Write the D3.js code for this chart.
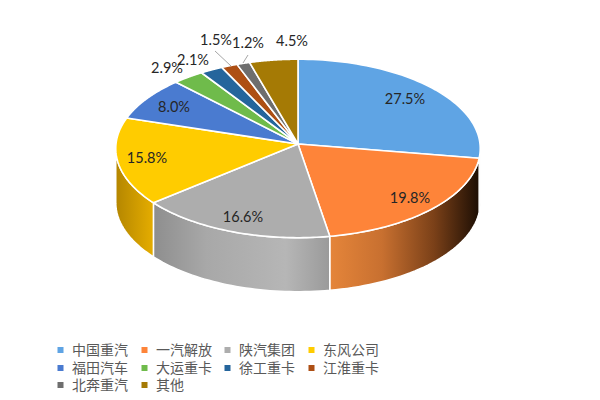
<!DOCTYPE html>
<html><head><meta charset="utf-8">
<script src="https://cdnjs.cloudflare.com/ajax/libs/d3/7.8.5/d3.min.js"></script>
<style>html,body{margin:0;background:#fff}svg{display:block}</style></head>
<body><svg id="c" width="600" height="400"></svg>
<script>
const categories=["中国重汽","一汽解放","陕汽集团","东风公司","福田汽车","大运重卡","徐工重卡","江淮重卡","北奔重汽","其他"];
const shares=[27.5,19.8,16.6,15.8,8.0,2.9,2.1,1.5,1.2,4.5];
const labels=["27.5%","19.8%","16.6%","15.8%","8.0%","2.9%","2.1%","1.5%","1.2%","4.5%"];
const colors=["#5fa4e4","#fe8439","#adadad","#ffcc00","#4a7bd0","#6fbb4b","#25659c","#ad4f14","#6e6e6e","#a57a05"];

// layout
const cx=298,cy=144,rx=182,ry=89,depth=54,persp=0.05;
const labelXY=[[405,99],[410,198],[243,217],[147,158],[174,107],[167,68],[193,60],[216,40],[248,43],[292,41]];
const leaders=[null,null,null,null,null,null,null,[[215,51],[231,66]],[[248,55],[243,63]],null];
const sideStops={
 0:[[0,"#1a0d03"],[1,"#000"]],
 1:[[0,"#e5853a"],[0.35,"#c87030"],[0.7,"#7a4018"],[1,"#1c0e04"]],
 2:[[0,"#8e8e8e"],[0.3,"#a8a8a8"],[0.75,"#b6b6b6"],[1,"#9a9a9a"]],
 3:[[0,"#b48600"],[1,"#e5ad00"]]
};

const svg=d3.select("#c");
const defs=svg.append("defs");
const arcs=d3.pie().sort(null).value(d=>d)(shares);
// rim of the pie seen in slight perspective: the far edge is a little foreshortened
const rim=a=>{const s=1+persp*Math.cos(a);return [cx+rx*Math.sin(a)/s, cy-ry*Math.cos(a)/s];};
const steps=(a0,a1,n)=>d3.range(0,n+1).map(k=>a0+(a1-a0)*k/n);
const line=d3.line();

// side walls: only the part of the rim facing the viewer
const lo=Math.acos(-persp), hi=2*Math.PI-lo;
const wall=svg.append("g");
arcs.forEach((d,i)=>{
  const a0=Math.max(d.startAngle,lo),a1=Math.min(d.endAngle,hi);
  if(a1<=a0)return;
  const ts=steps(a0,a1,40);
  const top=ts.map(rim);
  const bot=ts.slice().reverse().map(a=>{const p=rim(a);return [p[0],p[1]+depth];});
  const xs=top.map(p=>p[0]);
  const id="g"+i;
  const g=defs.append("linearGradient").attr("id",id).attr("gradientUnits","userSpaceOnUse")
    .attr("x1",i==1?d3.min(xs):d3.min(xs)).attr("x2",d3.max(xs)).attr("y1",0).attr("y2",0);
  (sideStops[i]||[[0,colors[i]],[1,colors[i]]]).forEach(s=>g.append("stop").attr("offset",s[0]).attr("stop-color",s[1]));
  wall.append("path").attr("d",line(top.concat(bot))+"Z")
    .attr("fill",`url(#${id})`).attr("stroke","#fff").attr("stroke-width",1.5).attr("stroke-linejoin","round");
});

// top face
svg.append("g").selectAll("path").data(arcs).join("path")
 .attr("d",d=>line([[cx,cy]].concat(steps(d.startAngle,d.endAngle,60).map(rim)))+"Z")
 .attr("fill",(d,i)=>colors[i])
 .attr("stroke","#fff").attr("stroke-width",1.6).attr("stroke-linejoin","round");

// leader lines
leaders.forEach(l=>{ if(l) svg.append("path").attr("d",line(l)).attr("stroke","#a6a6a6").attr("stroke-width",1).attr("fill","none");});

// value labels
svg.append("g").selectAll("text").data(labels).join("text")
 .attr("x",(d,i)=>labelXY[i][0]).attr("y",(d,i)=>labelXY[i][1]+5)
 .attr("text-anchor","middle").attr("font-family","Lato,'Open Sans',sans-serif").attr("font-size",14.5)
 .attr("fill","#262626").text(d=>d);

// legend
const colX=[60,144,227,311],rowY=[350,368,385];
const lg=svg.append("g");
categories.forEach((c,i)=>{
  const x=colX[i%4],y=rowY[Math.floor(i/4)];
  lg.append("rect").attr("x",x-2.5).attr("y",y-3).attr("width",6).attr("height",6).attr("fill",colors[i]);
  lg.append("text").attr("x",x+12).attr("y",y+5).attr("font-family","'Noto Sans CJK SC',sans-serif")
    .attr("font-size",14).attr("fill","#595959").text(c);
});
</script></body></html>
